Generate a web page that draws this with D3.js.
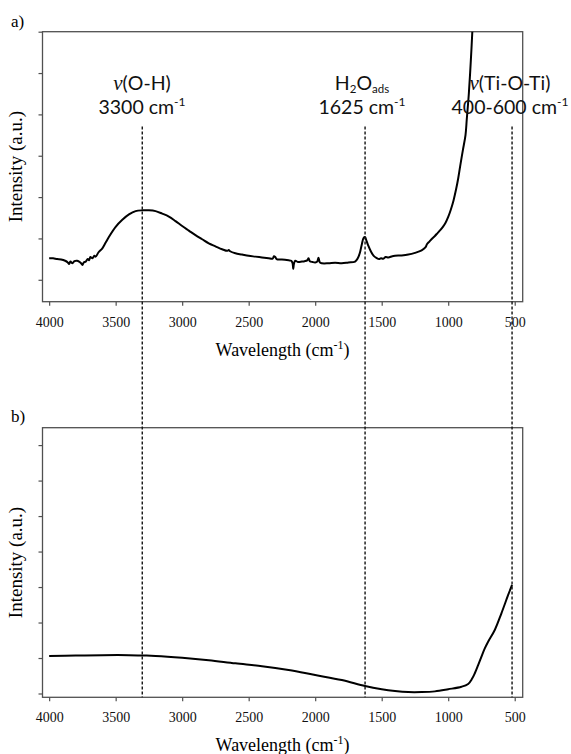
<!DOCTYPE html>
<html><head><meta charset="utf-8">
<script src="https://cdn.jsdelivr.net/npm/d3@7"></script>
<style>body{margin:0;background:#fff}</style>
</head><body><svg id="c" width="571" height="754"></svg>
<script>
// ---- data ----
const xTicks = [4000, 3500, 3000, 2500, 2000, 1500, 1000, 500];
const topYTicks = [0, 1, 2, 3, 4, 5, 6];
const botYTicks = [0, 1, 2, 3, 4, 5, 6, 7];
const markerWavenumbers = [3300, 1625, 520];

const topWavenumber = [4000,3970,3940,3910,3880,3860,3850,3840,3825,3810,3790,3775,3760,3750,3740,3725,3710,3700,3690,3675,3660,3650,3630,3600,3575,3550,3500,3450,3400,3350,3300,3250,3200,3150,3100,3050,3000,2950,2900,2850,2800,2750,2700,2660,2650,2640,2600,2550,2500,2450,2400,2350,2320,2310,2300,2290,2250,2200,2180,2170,2165,2160,2150,2130,2100,2080,2060,2050,2040,2020,2000,1985,1975,1965,1950,1900,1850,1800,1750,1700,1680,1665,1650,1635,1625,1615,1600,1580,1560,1540,1520,1505,1490,1470,1450,1420,1400,1350,1300,1250,1200,1170,1160,1140,1120,1100,1080,1060,1040,1020,1000,980,960,940,925,910,890,870,860,845,830,818,805];
const topIntensity = [0.52,0.52,0.50,0.49,0.46,0.42,0.38,0.44,0.40,0.45,0.46,0.44,0.40,0.36,0.42,0.44,0.50,0.47,0.55,0.52,0.58,0.56,0.66,0.76,0.90,1.04,1.28,1.45,1.58,1.66,1.68,1.68,1.66,1.60,1.53,1.42,1.30,1.19,1.08,0.98,0.88,0.81,0.74,0.70,0.72,0.69,0.64,0.61,0.58,0.56,0.54,0.52,0.51,0.57,0.55,0.50,0.49,0.47,0.46,0.40,0.26,0.38,0.46,0.43,0.44,0.45,0.47,0.52,0.45,0.43,0.42,0.44,0.53,0.42,0.40,0.40,0.41,0.40,0.42,0.44,0.52,0.64,0.85,1.02,1.03,0.95,0.82,0.68,0.58,0.53,0.50,0.52,0.51,0.55,0.54,0.57,0.58,0.59,0.61,0.65,0.71,0.79,0.86,0.93,1.00,1.06,1.13,1.20,1.28,1.38,1.52,1.70,1.92,2.20,2.45,2.75,3.13,3.50,3.90,4.50,5.30,6.05,7.00];

const botWavenumber = [4000,3800,3600,3400,3300,3200,3000,2800,2600,2400,2200,2000,1800,1625,1500,1400,1300,1200,1100,1000,900,850,820,800,775,750,725,700,650,600,550,520];
const botIntensity = [1.06,1.07,1.08,1.08,1.07,1.06,1.01,0.94,0.85,0.77,0.66,0.52,0.38,0.21,0.12,0.07,0.04,0.04,0.06,0.12,0.19,0.27,0.42,0.57,0.80,1.04,1.27,1.46,1.79,2.26,2.77,3.06];

// ---- drawing ----
const svg = d3.select('#c');
const L = 42.5, R = 522.7;
const panels = [
  {id:'a', top:31.7, bottom:301.7, dom:[-0.53, 6], ticks: topYTicks, xs: topWavenumber, ys: topIntensity, label:'a)', labelY:27, titleY:355.7},
  {id:'b', top:427.7, bottom:697.3, dom:[-0.107, 7.49], ticks: botYTicks, xs: botWavenumber, ys: botIntensity, label:'b)', labelY:421.7, titleY:751.3}
];
const x = d3.scaleLinear().domain([4050, 440]).range([L, R]);
const serif = "'Liberation Serif','Times New Roman',serif";
const sans = "Lato,'Open Sans',sans-serif";
const frameColor = '#505050';

panels.forEach(p => {
  const y = d3.scaleLinear().domain(p.dom).range([p.bottom, p.top]);
  const g = svg.append('g');
  svg.append('clipPath').attr('id', 'clip-' + p.id)
    .append('rect').attr('x', L).attr('y', p.top).attr('width', R - L).attr('height', p.bottom - p.top);
  // x axis
  const xa = g.append('g').attr('transform', `translate(0,${p.bottom})`)
    .call(d3.axisBottom(x).tickValues(xTicks).tickSize(4).tickSizeOuter(0).tickPadding(11).tickFormat(d3.format('d')));
  xa.attr('font-family', serif).attr('font-size', 14);
  xa.select('.domain').remove();
  xa.selectAll('line').attr('stroke', frameColor).attr('stroke-width', 1.2);
  xa.selectAll('text').attr('font-family', serif).attr('font-size', 14).attr('fill', '#111');
  // y axis
  const ya = g.append('g').attr('transform', `translate(${L},0)`)
    .call(d3.axisLeft(y).tickValues(p.ticks).tickSize(4).tickSizeOuter(0).tickFormat(''));
  ya.select('.domain').remove();
  ya.selectAll('line').attr('stroke', frameColor).attr('stroke-width', 1.2);
  // frame
  g.append('rect').attr('x', L).attr('y', p.top).attr('width', R - L).attr('height', p.bottom - p.top)
    .attr('fill', 'none').attr('stroke', frameColor).attr('stroke-width', 1.3);
  // curve
  const line = d3.line().x((d, i) => x(p.xs[i])).y((d, i) => y(p.ys[i])).curve(d3.curveCatmullRom.alpha(0.5));
  g.append('path').datum(p.xs).attr('d', line).attr('fill', 'none').attr('stroke', '#000')
    .attr('stroke-width', 2).attr('stroke-linejoin', 'round').attr('clip-path', `url(#clip-${p.id})`);
  // panel label
  svg.append('text').attr('x', 11).attr('y', p.labelY).attr('font-family', serif).attr('font-size', 17).text(p.label);
  // x title
  const t = svg.append('text').attr('x', (L + R) / 2).attr('y', p.titleY).attr('text-anchor', 'middle')
    .attr('font-family', serif).attr('font-size', 18);
  t.append('tspan').text('Wavelength (cm');
  t.append('tspan').attr('font-size', 12).attr('dy', -7).text('-1');
  t.append('tspan').attr('dy', 7).text(')');
  // y title
  svg.append('text').attr('transform', `translate(22,${(p.top + p.bottom) / 2}) rotate(-90)`)
    .attr('text-anchor', 'middle').attr('font-family', serif).attr('font-size', 19).text('Intensity (a.u.)');
});

// dashed marker lines
svg.append('g').selectAll('line').data(markerWavenumbers).join('line')
  .attr('x1', d => x(d)).attr('x2', d => x(d)).attr('y1', 126.5).attr('y2', 697.3)
  .attr('stroke', '#111').attr('stroke-width', 1.4).attr('stroke-dasharray', '3,2');

// annotations
function ann(cx, yb1, yb2, build1, main2) {
  const t1 = svg.append('text').attr('x', cx).attr('y', yb1).attr('text-anchor', 'middle')
    .attr('font-family', sans).attr('font-size', 19.5).attr('fill', '#111');
  build1(t1);
  const t2 = svg.append('text').attr('x', cx).attr('y', yb2).attr('text-anchor', 'middle')
    .attr('font-family', sans).attr('font-size', 19.5).attr('fill', '#111');
  t2.append('tspan').text(main2);
  t2.append('tspan').attr('font-size', 12).attr('dy', -8).text('-1');
}
ann(142, 89.5, 114, t => {
  t.append('tspan').attr('font-family', serif).attr('font-style', 'italic').attr('font-size', 21).text('ν');
  t.append('tspan').text('(O-H)');
}, '3300 cm');
ann(362, 89.5, 114, t => {
  t.append('tspan').text('H');
  t.append('tspan').attr('font-size', 11.5).attr('dy', 3).text('2');
  t.append('tspan').attr('dy', -3).text('O');
  t.append('tspan').attr('font-size', 11.5).attr('dy', 3).text('ads');
}, '1625 cm');
ann(510, 89.5, 114, t => {
  t.append('tspan').attr('font-family', serif).attr('font-style', 'italic').attr('font-size', 21).text('ν');
  t.append('tspan').text('(Ti-O-Ti)');
}, '400-600 cm');
</script>
</body></html>
